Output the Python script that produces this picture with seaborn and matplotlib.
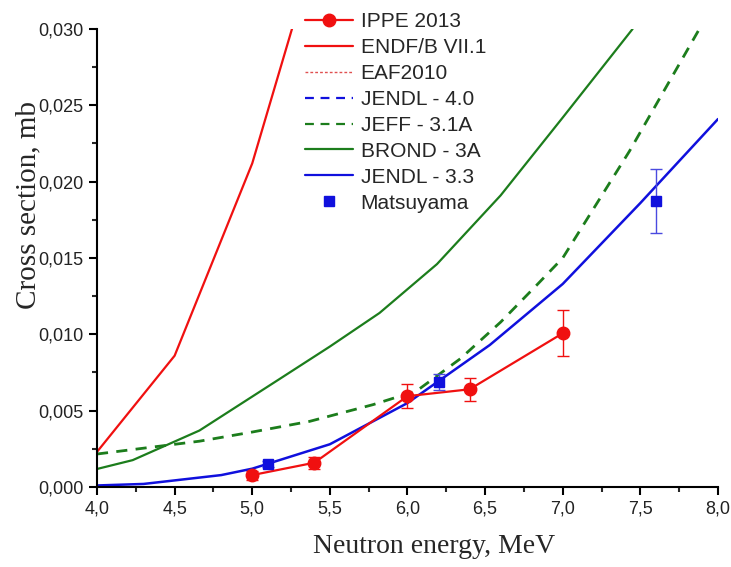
import matplotlib
matplotlib.use("Agg")
import seaborn as sns
import matplotlib.pyplot as plt
from matplotlib.lines import Line2D
from matplotlib.ticker import FuncFormatter, MultipleLocator

# evaluated libraries (only the visible ones carry points)
endf_e = [4.0, 4.5, 5.0, 5.5]
endf_xs = [0.0023, 0.0086, 0.0212, 0.0384]

brond_e = [4.0, 4.23, 4.66, 5.18, 5.5, 5.82, 6.19, 6.6, 7.0, 7.45]
brond_xs = [0.00118, 0.00176, 0.0037, 0.0071, 0.0092, 0.0114, 0.0146, 0.0191, 0.0242, 0.0300]

jeff_e = [4.0, 4.66, 5.0, 5.37, 5.78, 6.06, 6.34, 6.6, 6.83, 7.0, 7.43, 7.88]
jeff_xs = [0.00216, 0.0030, 0.0036, 0.0043, 0.0054, 0.0063, 0.0084, 0.0108, 0.0132, 0.0150, 0.0220, 0.0300]

jendl33_e = [4.0, 4.3, 4.8, 5.0, 5.5, 6.0, 6.53, 7.0, 7.5, 8.0]
jendl33_xs = [0.0001, 0.0002, 0.00078, 0.0012, 0.0028, 0.0055, 0.0093, 0.0133, 0.0186, 0.0241]

# experiments
ippe_e = [5.0, 5.4, 6.0, 6.4, 7.0]
ippe_xs = [0.00078, 0.00159, 0.00595, 0.0064, 0.01007]
ippe_err = [0.0003, 0.0004, 0.00078, 0.00076, 0.0015]

mats_e = [5.1, 6.2, 7.6]
mats_xs = [0.00148, 0.00688, 0.01876]
mats_err = [0.0002, 0.00055, 0.0021]

RED = "#f01010"
GREEN = "#1c7d1c"
BLUE = "#1010dd"

sns.set_style("ticks")
plt.rcParams["font.family"] = ["Liberation Sans", "DejaVu Sans"]

fig = plt.figure(figsize=(7.31, 5.67), dpi=100)
ax = fig.add_axes([0.1327, 0.1411, 0.8495, 0.8078])

ax.errorbar(ippe_e, ippe_xs, yerr=ippe_err, color=RED, marker="o", ms=9,
            lw=1.6, elinewidth=1.0, capsize=4, capthick=1.0, zorder=5)
sns.lineplot(x=endf_e, y=endf_xs, color=RED, lw=1.6, sort=False, ax=ax)
sns.lineplot(x=jeff_e, y=jeff_xs, color=GREEN, lw=2.0, ls=(0, (4, 3)), sort=False, ax=ax)
sns.lineplot(x=brond_e, y=brond_xs, color=GREEN, lw=1.6, sort=False, ax=ax)
sns.lineplot(x=jendl33_e, y=jendl33_xs, color=BLUE, lw=1.8, sort=False, ax=ax)
ax.errorbar(mats_e, mats_xs, yerr=mats_err, color=BLUE, marker="s", ms=7, ls="none",
            elinewidth=1.0, capsize=4, capthick=1.0, ecolor="#4a4ae0", zorder=6)

ax.set_xlim(4.0, 8.0)
ax.set_ylim(0.0, 0.030)
ax.xaxis.set_major_locator(MultipleLocator(0.5))
ax.xaxis.set_minor_locator(MultipleLocator(0.25))
ax.yaxis.set_major_locator(MultipleLocator(0.005))
ax.yaxis.set_minor_locator(MultipleLocator(0.0025))
ax.xaxis.set_major_formatter(FuncFormatter(lambda v, p: f"{v:.1f}".replace(".", ",")))
ax.yaxis.set_major_formatter(FuncFormatter(lambda v, p: f"{v:.3f}".replace(".", ",")))
ax.tick_params(which="major", direction="out", length=6, width=1.5, labelsize=13,
               colors="black", labelcolor="#222222")
ax.tick_params(which="minor", direction="out", length=3.5, width=1.5)
for side in ["left", "bottom"]:
    ax.spines[side].set_linewidth(1.5)
    ax.spines[side].set_color("black")
sns.despine(ax=ax)

ax.set_xlabel("Neutron energy, MeV", family="Liberation Serif", fontsize=20)
ax.set_ylabel("Cross section, mb", family="Liberation Serif", fontsize=21)
ax.xaxis.set_label_coords(0.543, -0.103)
ax.yaxis.set_label_coords(-0.09, 0.616)

# legend handles (no error bars in the key)
handles = [
    Line2D([], [], color=RED, lw=1.6, marker="o", ms=9),
    Line2D([], [], color=RED, lw=1.6),
    Line2D([], [], color="#e05050", lw=1.0, ls=(0, (2, 1.5))),
    Line2D([], [], color=BLUE, lw=1.6, ls=(0, (4, 3))),
    Line2D([], [], color=GREEN, lw=1.6, ls=(0, (4, 3))),
    Line2D([], [], color=GREEN, lw=1.6),
    Line2D([], [], color=BLUE, lw=1.6),
    Line2D([], [], color=BLUE, ls="none", marker="s", ms=7),
]
labels = ["IPPE 2013", "ENDF/B VII.1", "EAF2010", "JENDL - 4.0", "JEFF - 3.1A",
          "BROND - 3A", "JENDL - 3.3", "Matsuyama"]
ax.legend(handles, labels, loc="upper left",
          bbox_to_anchor=(295 / 731, 1 - 2 / 567), bbox_transform=fig.transFigure,
          frameon=False, fontsize=15, handlelength=2.3, handletextpad=0.35,
          labelspacing=0.33, borderpad=0.0)

fig.savefig("out.png", dpi=100)
